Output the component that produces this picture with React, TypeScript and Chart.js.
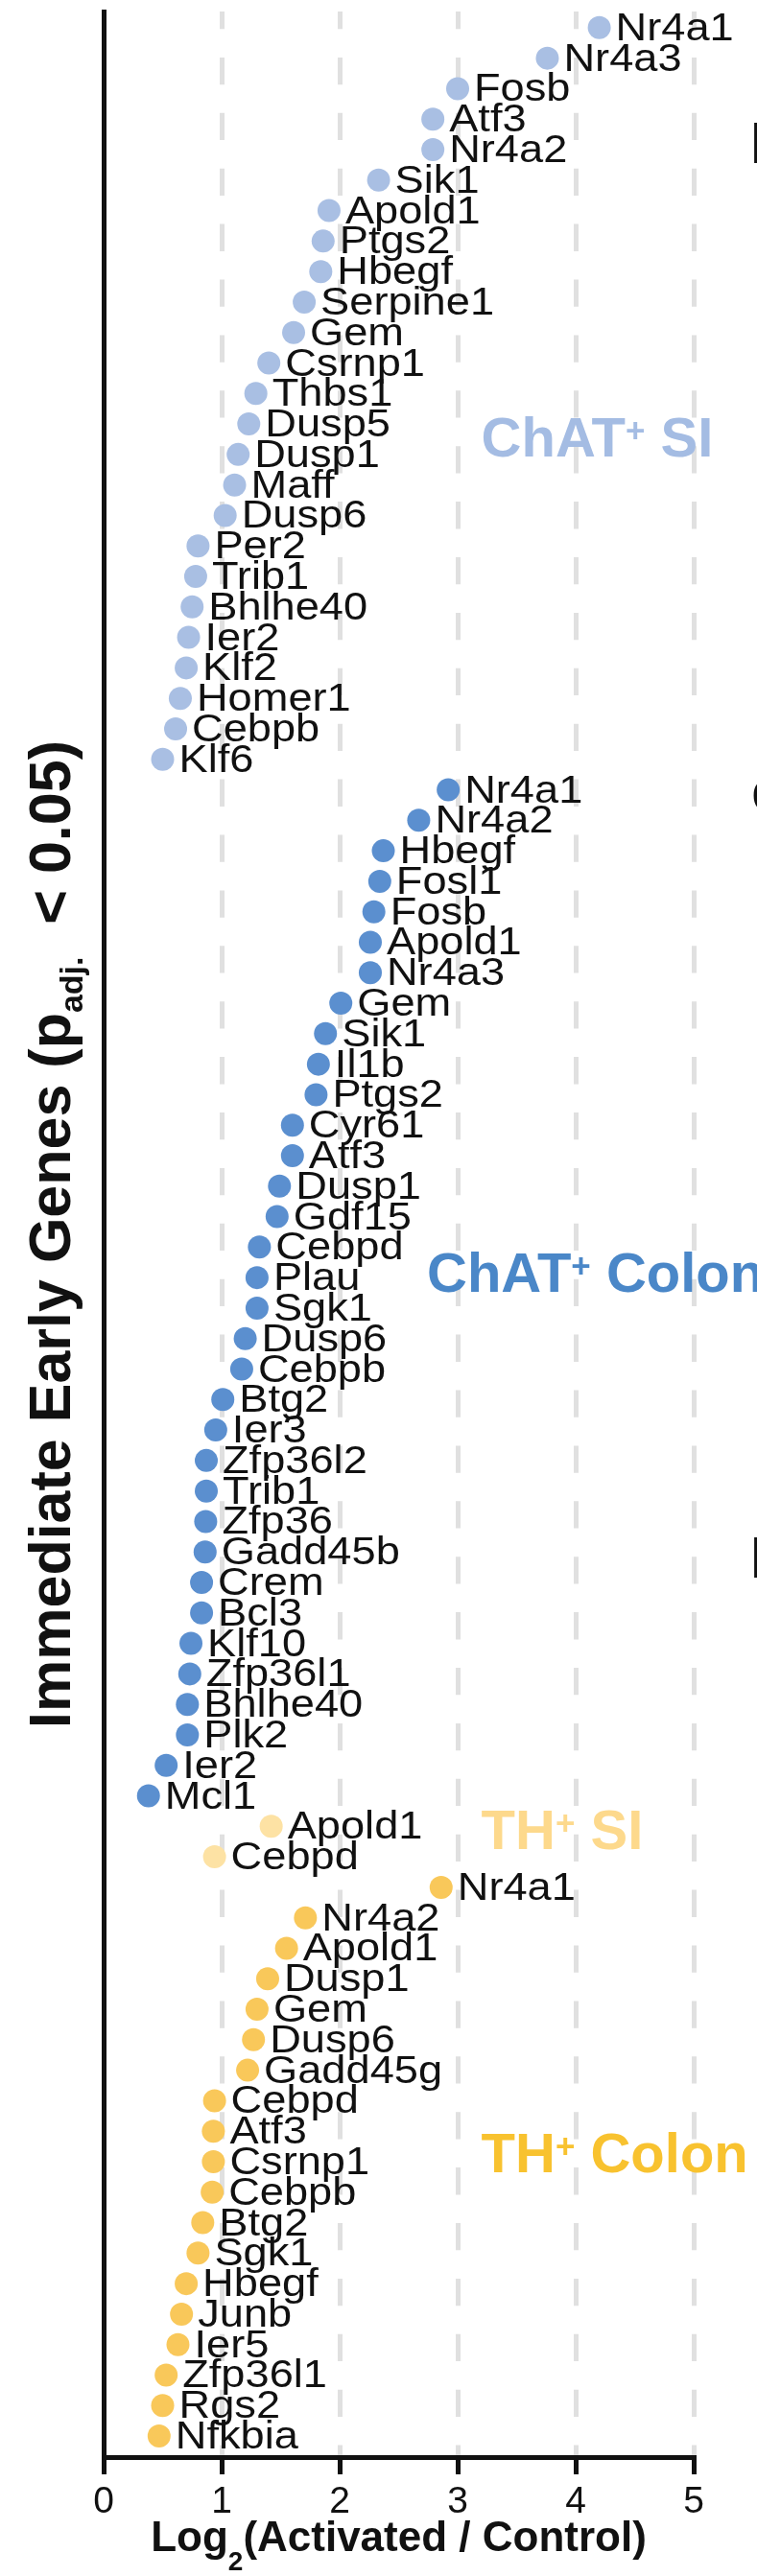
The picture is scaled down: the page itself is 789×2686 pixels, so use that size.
import React, { useEffect, useRef } from "react";
import { Chart, registerables } from "chart.js";

Chart.register(...registerables);

// ChAT+ small intestine
const chatSiGenes = [
  "Nr4a1", "Nr4a3", "Fosb", "Atf3", "Nr4a2", "Sik1", "Apold1", "Ptgs2", "Hbegf",
  "Serpine1", "Gem", "Csrnp1", "Thbs1", "Dusp5", "Dusp1", "Maff", "Dusp6", "Per2",
  "Trib1", "Bhlhe40", "Ier2", "Klf2", "Homer1", "Cebpb", "Klf6",
];
const chatSiFc = [
  4.2, 3.76, 3.0, 2.79, 2.79, 2.33, 1.91, 1.86, 1.84,
  1.7, 1.61, 1.4, 1.29, 1.23, 1.14, 1.11, 1.03, 0.8,
  0.78, 0.75, 0.72, 0.7, 0.65, 0.61, 0.5,
];

// ChAT+ colon
const chatColonGenes = [
  "Nr4a1", "Nr4a2", "Hbegf", "Fosl1", "Fosb", "Apold1", "Nr4a3", "Gem", "Sik1",
  "Il1b", "Ptgs2", "Cyr61", "Atf3", "Dusp1", "Gdf15", "Cebpd", "Plau", "Sgk1",
  "Dusp6", "Cebpb", "Btg2", "Ier3", "Zfp36l2", "Trib1", "Zfp36", "Gadd45b", "Crem",
  "Bcl3", "Klf10", "Zfp36l1", "Bhlhe40", "Plk2", "Ier2", "Mcl1",
];
const chatColonFc = [
  2.92, 2.67, 2.37, 2.34, 2.29, 2.26, 2.26, 2.01, 1.88,
  1.82, 1.8, 1.6, 1.6, 1.49, 1.47, 1.32, 1.3, 1.3,
  1.2, 1.17, 1.01, 0.95, 0.87, 0.87, 0.865, 0.86, 0.83,
  0.83, 0.74, 0.73, 0.71, 0.71, 0.53, 0.38,
];

// TH+ small intestine
const thSiGenes = ["Apold1", "Cebpd"];
const thSiFc = [1.42, 0.94];

// TH+ colon
const thColonGenes = [
  "Nr4a1", "Nr4a2", "Apold1", "Dusp1", "Gem", "Dusp6", "Gadd45g", "Cebpd", "Atf3",
  "Csrnp1", "Cebpb", "Btg2", "Sgk1", "Hbegf", "Junb", "Ier5", "Zfp36l1", "Rgs2", "Nfkbia",
];
const thColonFc = [
  2.86, 1.71, 1.55, 1.39, 1.3, 1.27, 1.22, 0.94, 0.93,
  0.93, 0.92, 0.84, 0.8, 0.7, 0.66, 0.63, 0.53, 0.5, 0.47,
];

const xTicks = [0, 1, 2, 3, 4, 5];

const groupNames = ["ChAT", "ChAT", "TH", "TH"];
const groupSuffix = [" SI", " Colon", " SI", " Colon"];
const groupGenes = [chatSiGenes, chatColonGenes, thSiGenes, thColonGenes];
const groupValues = [chatSiFc, chatColonFc, thSiFc, thColonFc];
const pointColors = ["#a9bfe3", "#5b8fcf", "#fde2a4", "#f9c85a"];
const labelColors = ["#a4bce3", "#4a87c8", "#fdd98c", "#f8c22f"];
// where each group title sits (x in data units, y in row units)
const groupLabelAt = [
  { x: 3.2, row: 13.4 },
  { x: 2.74, row: 40.8 },
  { x: 3.2, row: 59.1 },
  { x: 3.2, row: 69.7 },
];

const FONT = '"Liberation Sans", Arial, Helvetica, sans-serif';

const drawPieces = (
  ctx: CanvasRenderingContext2D,
  pieces: { text: string; font: string; dy: number }[],
  startX: number
) => {
  let x = startX;
  pieces.forEach((p) => {
    ctx.font = p.font;
    ctx.fillText(p.text, x, p.dy);
    x += ctx.measureText(p.text).width;
  });
};

const piecesWidth = (ctx: CanvasRenderingContext2D, pieces: { text: string; font: string }[]) =>
  pieces.reduce((w, p) => {
    ctx.font = p.font;
    return w + ctx.measureText(p.text).width;
  }, 0);

const geneLabels = {
  id: "geneLabels",
  afterDatasetsDraw(chart: any) {
    const ctx = chart.ctx as CanvasRenderingContext2D;
    ctx.save();
    ctx.fillStyle = "#111";
    ctx.font = `40px ${FONT}`;
    ctx.textAlign = "left";
    ctx.textBaseline = "alphabetic";
    chart.data.datasets.forEach((ds: any, di: number) => {
      const meta = chart.getDatasetMeta(di);
      meta.data.forEach((pt: any, i: number) => {
        ctx.save();
        ctx.translate(pt.x + 17, pt.y + 13);
        ctx.scale(1.13, 1);
        ctx.fillText(ds.genes[i], 0, 0);
        ctx.restore();
      });
    });
    ctx.restore();
  },
};

const decorations = {
  id: "decorations",
  afterDraw(chart: any) {
    const ctx = chart.ctx as CanvasRenderingContext2D;
    const xs = chart.scales.x;
    const ys = chart.scales.y;
    const area = chart.chartArea;
    ctx.save();
    ctx.fillStyle = "#111";
    ctx.textBaseline = "alphabetic";

    // x tick labels
    ctx.font = `39px ${FONT}`;
    ctx.textAlign = "center";
    xs.ticks.forEach((t: any) => {
      ctx.fillText(String(t.value), xs.getPixelForValue(t.value), area.bottom + 58);
    });

    // x title
    ctx.textAlign = "left";
    const xPieces = [
      { text: "Log", font: `bold 44px ${FONT}`, dy: 0 },
      { text: "2", font: `bold 28px ${FONT}`, dy: 20 },
      { text: "(Activated / Control)", font: `bold 44px ${FONT}`, dy: 0 },
    ];
    const xw = piecesWidth(ctx, xPieces);
    ctx.save();
    ctx.translate((area.left + area.right) / 2, area.bottom + 98);
    drawPieces(ctx, xPieces, -xw / 2);
    ctx.restore();

    // y title
    const yPieces = [
      { text: "Immediate Early Genes (p", font: `bold 61px ${FONT}`, dy: 0 },
      { text: "adj.", font: `bold 34px ${FONT}`, dy: 13 },
      { text: "  < 0.05)", font: `bold 61px ${FONT}`, dy: 0 },
    ];
    const yw = piecesWidth(ctx, yPieces);
    ctx.save();
    ctx.translate(area.left - 35, (area.top + area.bottom) / 2);
    ctx.rotate(-Math.PI / 2);
    drawPieces(ctx, yPieces, -yw / 2);
    ctx.restore();

    // group titles
    groupNames.forEach((name, g) => {
      const px = xs.getPixelForValue(groupLabelAt[g].x);
      const py = ys.getPixelForValue(groupLabelAt[g].row) + 21;
      ctx.fillStyle = labelColors[g];
      ctx.save();
      ctx.translate(px, py);
      drawPieces(
        ctx,
        [
          { text: name, font: `bold 58px ${FONT}`, dy: 0 },
          { text: "+", font: `bold 35px ${FONT}`, dy: -15 },
          { text: groupSuffix[g], font: `bold 58px ${FONT}`, dy: 0 },
        ],
        0
      );
      ctx.restore();
    });

    // cut-off letters of the neighbouring panel at the right edge
    ctx.fillStyle = "#111";
    ctx.font = `62px ${FONT}`;
    ctx.fillText("B", chart.width - 8, 170);
    ctx.font = `60px ${FONT}`;
    ctx.fillText("c", chart.width - 6, 845);
    ctx.font = `62px ${FONT}`;
    ctx.fillText("D", chart.width - 8, 1645);
    ctx.restore();
  },
};

const App: React.FC = () => {
  const canvasRef = useRef<HTMLCanvasElement | null>(null);
  const chartRef = useRef<Chart | null>(null);

  useEffect(() => {
    document.body.style.margin = "0";
    if (!canvasRef.current) return;
    const ctx = canvasRef.current.getContext("2d");
    if (!ctx) return;
    if (chartRef.current) chartRef.current.destroy();

    let row = 0;
    const datasets = groupGenes.map((genes, g) => {
      const start = row;
      row += genes.length;
      return {
        label: `${groupNames[g]}+${groupSuffix[g]}`,
        genes,
        data: groupValues[g].map((v, i) => ({ x: v, y: start + i })),
        backgroundColor: pointColors[g],
        borderWidth: 0,
        pointRadius: 12,
        pointHoverRadius: 12,
      };
    });

    chartRef.current = new Chart(ctx, {
      type: "scatter",
      data: { datasets: datasets as any },
      options: {
        animation: false,
        responsive: false,
        events: [],
        layout: { padding: { top: 5, right: 66, bottom: 0, left: 0 } },
        plugins: { legend: { display: false }, tooltip: { enabled: false } },
        scales: {
          x: {
            type: "linear",
            min: 0,
            max: 5,
            afterFit: (scale: any) => {
              scale.height = 124;
            },
            afterBuildTicks: (scale: any) => {
              scale.ticks = xTicks.map((v) => ({ value: v }));
            },
            ticks: { display: false },
            grid: {
              color: (c: any) => (c.tick && c.tick.value === 0 ? "rgba(0,0,0,0)" : "#e0e0e0"),
              lineWidth: 5,
              drawTicks: true,
              tickLength: 18,
              tickColor: "#111",
              tickWidth: 5,
            },
            border: { display: true, color: "#111", width: 5, dash: [28.3, 29.6], dashOffset: 10 },
          },
          y: {
            type: "linear",
            reverse: true,
            min: -0.53,
            max: 79.69,
            afterFit: (scale: any) => {
              scale.width = 108;
            },
            ticks: { display: false },
            grid: { display: false },
            border: { display: true, color: "#111", width: 5 },
          },
        },
      },
      plugins: [geneLabels, decorations],
    });

    return () => {
      if (chartRef.current) {
        chartRef.current.destroy();
        chartRef.current = null;
      }
    };
  }, []);

  return (
    <div style={{ width: 789, height: 2686 }}>
      <canvas ref={canvasRef} width={789} height={2686} style={{ display: "block", width: 789, height: 2686 }} />
    </div>
  );
};

export default App;
